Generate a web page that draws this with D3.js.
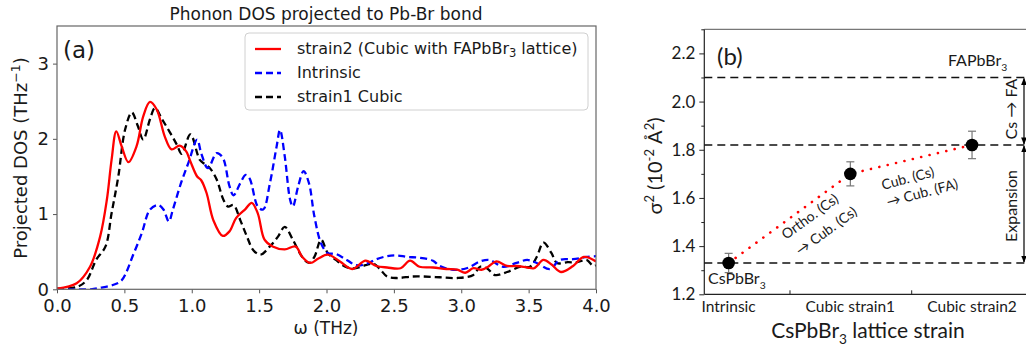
<!DOCTYPE html>
<html>
<head>
<meta charset="utf-8">
<script src="https://cdn.jsdelivr.net/npm/d3@7"></script>
<style>
  body { margin: 0; background: #fff; }
  svg { display: block; }
  .pa text { font-family: "DejaVu Sans", sans-serif; fill: #1a1a1a; }
  .pb text { font-family: Lato, "Open Sans", sans-serif; fill: #1a1a1a; }
</style>
</head>
<body>
<div id="chart"></div>
<script>
// ---- panel (a): phonon DOS, [omega THz, DOS] pairs
const strain2Dos = [[0,0.01],[0.146,0.08],[0.245,0.30],[0.32,0.70],[0.37,1.19],[0.405,1.72],[0.44,2.10],[0.48,1.90],[0.53,1.69],[0.59,1.90],[0.64,2.30],[0.69,2.49],[0.74,2.39],[0.80,2.03],[0.85,1.86],[0.91,1.91],[0.96,1.83],[0.99,1.70],[1.04,1.50],[1.07,1.45],[1.11,1.28],[1.16,0.92],[1.23,0.71],[1.28,0.77],[1.33,0.95],[1.40,1.07],[1.445,1.15],[1.49,1.01],[1.54,0.66],[1.60,0.57],[1.69,0.53],[1.77,0.57],[1.82,0.43],[1.88,0.35],[1.94,0.41],[2.01,0.46],[2.10,0.37],[2.19,0.27],[2.29,0.38],[2.37,0.31],[2.45,0.29],[2.55,0.28],[2.62,0.38],[2.69,0.30],[2.79,0.29],[2.89,0.27],[2.97,0.26],[3.03,0.22],[3.09,0.28],[3.15,0.26],[3.20,0.30],[3.26,0.37],[3.34,0.31],[3.41,0.31],[3.49,0.29],[3.54,0.28],[3.61,0.39],[3.67,0.33],[3.74,0.23],[3.83,0.31],[3.91,0.43],[4.0,0.37]];
const intrinsicDos = [[0,0],[0.1,0],[0.25,0],[0.32,0.02],[0.42,0.06],[0.48,0.12],[0.57,0.48],[0.63,0.75],[0.69,1.06],[0.75,1.12],[0.79,1.06],[0.83,0.90],[0.86,1.06],[0.92,1.41],[0.975,1.68],[1.04,1.99],[1.07,1.81],[1.12,1.61],[1.185,1.81],[1.23,1.75],[1.28,1.37],[1.31,1.25],[1.36,1.41],[1.40,1.52],[1.43,1.47],[1.49,1.10],[1.53,1.06],[1.58,1.41],[1.63,1.90],[1.655,2.12],[1.69,1.77],[1.73,1.19],[1.75,1.10],[1.79,1.37],[1.83,1.57],[1.87,1.41],[1.91,0.97],[1.96,0.61],[2.01,0.48],[2.07,0.47],[2.15,0.39],[2.22,0.32],[2.30,0.34],[2.37,0.40],[2.45,0.44],[2.52,0.45],[2.60,0.43],[2.69,0.42],[2.79,0.38],[2.84,0.31],[2.94,0.26],[3.04,0.28],[3.14,0.37],[3.21,0.39],[3.31,0.30],[3.41,0.35],[3.49,0.39],[3.56,0.35],[3.66,0.27],[3.73,0.39],[3.83,0.40],[3.93,0.43],[4.0,0.44]];
const strain1Dos = [[0,0.01],[0.146,0.03],[0.22,0.12],[0.29,0.39],[0.36,0.57],[0.405,1.01],[0.455,1.50],[0.505,2.12],[0.555,2.35],[0.60,2.17],[0.64,1.99],[0.69,2.26],[0.727,2.41],[0.78,2.26],[0.84,2.08],[0.89,1.92],[0.925,1.80],[0.99,2.06],[1.06,1.72],[1.10,1.66],[1.135,1.61],[1.185,1.46],[1.235,1.19],[1.27,1.10],[1.31,1.12],[1.36,0.92],[1.41,0.70],[1.457,0.52],[1.51,0.46],[1.58,0.57],[1.64,0.70],[1.69,0.83],[1.75,0.66],[1.82,0.43],[1.87,0.35],[1.91,0.43],[1.96,0.66],[2.01,0.48],[2.07,0.39],[2.14,0.30],[2.21,0.28],[2.29,0.32],[2.35,0.34],[2.40,0.26],[2.45,0.17],[2.52,0.15],[2.64,0.17],[2.72,0.17],[2.84,0.16],[2.97,0.15],[3.09,0.19],[3.14,0.30],[3.19,0.28],[3.25,0.19],[3.34,0.23],[3.44,0.30],[3.51,0.30],[3.56,0.43],[3.61,0.62],[3.67,0.48],[3.71,0.35],[3.79,0.36],[3.86,0.36],[3.93,0.39],[3.98,0.31],[4.0,0.32]];
const omegaTicks = [0, 0.5, 1, 1.5, 2, 2.5, 3, 3.5, 4];
const dosTicks = [0, 1, 2, 3];

// ---- panel (b): sigma^2 per lattice strain
const strainCats = ['Intrinsic', 'Cubic strain1', 'Cubic strain2'];
const sigma2 = [1.33, 1.70, 1.82];
const sigma2Err = [0.04, 0.05, 0.057];
const refLevels = [2.10, 1.82, 1.33];
const sigmaTicks = [1.2, 1.4, 1.6, 1.8, 2.0, 2.2];
const sigmaMinor = [1.3, 1.5, 1.7, 1.9, 2.1, 2.3];

const W = 1026, H = 347;
const svg = d3.select('#chart').append('svg').attr('width', W).attr('height', H);

// ================= panel (a) =================
const ga = svg.append('g').attr('class', 'pa');
const xa = d3.scaleLinear().domain([0, 4]).range([57, 596]);
const ya = d3.scaleLinear().domain([0, 3.5]).range([289.3, 26]);

ga.append('defs').append('clipPath').attr('id', 'clipA')
  .append('rect').attr('x', xa(0)).attr('y', ya(3.5))
  .attr('width', xa(4) - xa(0)).attr('height', ya(0) - ya(3.5));

const line = d3.line().x(d => xa(d[0])).y(d => ya(d[1])).curve(d3.curveCatmullRom.alpha(0.5));

const seriesA = [
  { name: 'strain1', data: strain1Dos, color: '#000', dash: '7,4' },
  { name: 'intrinsic', data: intrinsicDos, color: '#0000ff', dash: '7,4' },
  { name: 'strain2', data: strain2Dos, color: '#ff0000', dash: null }
];
const plotA = ga.append('g').attr('clip-path', 'url(#clipA)');
seriesA.forEach(s => {
  plotA.append('path').datum(s.data)
    .attr('d', line)
    .attr('fill', 'none')
    .attr('stroke', s.color)
    .attr('stroke-width', 2.3)
    .attr('stroke-dasharray', s.dash);
});

const axA = ga.append('g').attr('transform', `translate(0,${ya(0)})`)
  .call(d3.axisBottom(xa).tickValues(omegaTicks).tickFormat(d3.format('.1f')).tickSize(4).tickPadding(6));
const ayA = ga.append('g').attr('transform', `translate(${xa(0)},0)`)
  .call(d3.axisLeft(ya).tickValues(dosTicks).tickFormat(d3.format('d')).tickSize(4).tickPadding(4));
[axA, ayA].forEach(a => {
  a.select('.domain').remove();
  a.selectAll('line').attr('stroke', '#555');
  a.selectAll('text').style('font-size', '18px').attr('fill', '#1a1a1a');
});
ga.append('rect').attr('x', xa(0)).attr('y', ya(3.5))
  .attr('width', xa(4) - xa(0)).attr('height', ya(0) - ya(3.5))
  .attr('fill', 'none').attr('stroke', '#666').attr('stroke-width', 1.2);

ga.append('text').attr('x', 326).attr('y', 20).attr('text-anchor', 'middle')
  .style('font-size', '17px').text('Phonon DOS projected to Pb-Br bond');
ga.append('text').attr('x', 63).attr('y', 58).style('font-size', '23px').text('(a)');
ga.append('text').attr('x', 326).attr('y', 334).attr('text-anchor', 'middle')
  .style('font-size', '17px').text('ω (THz)');
const yl = ga.append('text').attr('transform', 'translate(27,158) rotate(-90)')
  .attr('text-anchor', 'middle').style('font-size', '18px');
yl.append('tspan').text('Projected DOS (THz');
yl.append('tspan').attr('dy', -7).style('font-size', '12.5px').text('−1');
yl.append('tspan').attr('dy', 7).text(')');

// legend
const lg = ga.append('g');
lg.append('rect').attr('x', 245).attr('y', 33).attr('width', 343).attr('height', 77).attr('rx', 4)
  .attr('fill', '#fff').attr('fill-opacity', 0.85).attr('stroke', '#d0d0d0');
const legendItems = [seriesA[2], seriesA[1], seriesA[0]];
const legendLabels = [null, 'Intrinsic', 'strain1 Cubic'];
legendItems.forEach((s, i) => {
  const y = 49 + i * 24;
  lg.append('line').attr('x1', 255).attr('x2', 281).attr('y1', y).attr('y2', y)
    .attr('stroke', s.color).attr('stroke-width', 2.3).attr('stroke-dasharray', s.dash);
  const t = lg.append('text').attr('x', 297).attr('y', y + 5).style('font-size', '16px');
  if (i === 0) {
    t.append('tspan').text('strain2 (Cubic with FAPbBr');
    t.append('tspan').attr('dy', 3).style('font-size', '11.5px').text('3');
    t.append('tspan').attr('dy', -3).text(' lattice)');
  } else {
    t.text(legendLabels[i]);
  }
});

// ================= panel (b) =================
const gb = svg.append('g').attr('class', 'pb');
const xb = d3.scaleLinear().domain([-0.2, 2.5]).range([704.3, 704.3 + 2.7 * 121.7]);
const yb = d3.scaleLinear().domain([1.2, 2.3]).range([294.3, 29.3]);

// frame
gb.append('line').attr('x1', xb(-0.2)).attr('x2', xb(-0.2)).attr('y1', yb(2.3)).attr('y2', yb(1.2))
  .attr('stroke', '#222').attr('stroke-width', 1.2);
gb.append('line').attr('x1', xb(-0.2)).attr('x2', W).attr('y1', yb(1.2)).attr('y2', yb(1.2))
  .attr('stroke', '#222').attr('stroke-width', 1.2);
gb.append('line').attr('x1', xb(-0.2)).attr('x2', W).attr('y1', yb(2.3)).attr('y2', yb(2.3))
  .attr('stroke', '#555').attr('stroke-width', 1);

const ayB = gb.append('g').attr('transform', `translate(${xb(-0.2)},0)`)
  .call(d3.axisLeft(yb).tickValues(sigmaTicks).tickFormat(d3.format('.1f')).tickSize(5).tickPadding(4));
ayB.select('.domain').remove();
ayB.selectAll('line').attr('stroke', '#222');
ayB.selectAll('text').style('font-size', '17px').attr('fill', '#1a1a1a');
const ayMinor = gb.append('g').attr('transform', `translate(${xb(-0.2)},0)`)
  .call(d3.axisLeft(yb).tickValues(sigmaMinor).tickFormat('').tickSize(3));
ayMinor.select('.domain').remove();
ayMinor.selectAll('line').attr('stroke', '#222');

const axB = gb.append('g').attr('transform', `translate(0,${yb(1.2)})`)
  .call(d3.axisBottom(xb).tickValues([0.5, 1.5]).tickFormat('').tickSize(-4));
axB.select('.domain').remove();
axB.selectAll('line').attr('stroke', '#222');

gb.selectAll('.cat').data(strainCats).enter().append('text')
  .attr('class', 'cat')
  .attr('x', (d, i) => xb(i)).attr('y', 312)
  .attr('text-anchor', 'middle').style('font-size', '15.5px').text(d => d);

// reference dashed levels
gb.selectAll('.ref').data(refLevels).enter().append('line')
  .attr('class', 'ref')
  .attr('x1', xb(-0.2)).attr('x2', W)
  .attr('y1', d => yb(d)).attr('y2', d => yb(d))
  .attr('stroke', '#111').attr('stroke-width', 1.4).attr('stroke-dasharray', '8,5');

// red dotted connector
const pts = sigma2.map((v, i) => [i, v]);
gb.append('path').datum(pts)
  .attr('d', d3.line().x(d => xb(d[0])).y(d => yb(d[1])))
  .attr('fill', 'none').attr('stroke', '#ff0000').attr('stroke-width', 2.6)
  .attr('stroke-linecap', 'round').attr('stroke-dasharray', '0.1,8.5');

// error bars
sigma2.forEach((v, i) => {
  const e = sigma2Err[i], cx = xb(i);
  const g = gb.append('g').attr('stroke', '#777').attr('stroke-width', 1.2);
  g.append('line').attr('x1', cx).attr('x2', cx).attr('y1', yb(v - e)).attr('y2', yb(v + e));
  g.append('line').attr('x1', cx - 4).attr('x2', cx + 4).attr('y1', yb(v - e)).attr('y2', yb(v - e));
  g.append('line').attr('x1', cx - 4).attr('x2', cx + 4).attr('y1', yb(v + e)).attr('y2', yb(v + e));
});
gb.selectAll('.pt').data(sigma2).enter().append('circle')
  .attr('class', 'pt')
  .attr('cx', (d, i) => xb(i)).attr('cy', d => yb(d)).attr('r', 6.3).attr('fill', '#000');

// labels
gb.append('text').attr('x', 717).attr('y', 65).style('font-size', '24px').text('(b)');
function subText(x, y, size, main, sub, after, anchor) {
  const t = gb.append('text').attr('x', x).attr('y', y).style('font-size', size + 'px')
    .attr('text-anchor', anchor || 'start');
  t.append('tspan').text(main);
  t.append('tspan').attr('dy', size * 0.3).style('font-size', (size * 0.65) + 'px').text(sub);
  if (after) t.append('tspan').attr('dy', -size * 0.3).text(after);
  return t;
}
subText(948, 66, 16, 'FAPbBr', '3');
subText(708, 284, 16, 'CsPbBr', '3');
subText(868, 338, 21, 'CsPbBr', '3', ' lattice strain', 'middle');

const ylb = gb.append('text').attr('transform', 'translate(662,166) rotate(-90)')
  .attr('text-anchor', 'middle').style('font-size', '20px');
ylb.append('tspan').text('σ');
ylb.append('tspan').attr('dy', -8).style('font-size', '13px').text('2');
ylb.append('tspan').attr('dy', 8).text(' (10');
ylb.append('tspan').attr('dy', -8).style('font-size', '13px').text('-2');
ylb.append('tspan').attr('dy', 8).text(' Å');
ylb.append('tspan').attr('dy', -8).style('font-size', '13px').text('2');
ylb.append('tspan').attr('dy', 8).text(')');

// annotations along the connector
function rotText(x, y, ang, size, txt) {
  gb.append('text').attr('transform', `translate(${x},${y}) rotate(${ang})`)
    .style('font-size', size + 'px').text(txt);
}
rotText(786, 240, -36, 14, 'Ortho. (Cs)');
rotText(800, 256, -36, 14, '→ Cub. (Cs)');
rotText(883, 190, -15, 14, 'Cub. (Cs)');
rotText(888, 207, -15, 14, '→ Cub. (FA)');

// vertical arrows on the right
const defs = svg.append('defs');
defs.append('marker').attr('id', 'ah').attr('viewBox', '0 0 10 10').attr('refX', 9).attr('refY', 5)
  .attr('markerWidth', 6).attr('markerHeight', 6).attr('orient', 'auto-start-reverse')
  .append('path').attr('d', 'M0,1 L10,5 L0,9 Z').attr('fill', '#000');
const ax = 1024;
[[refLevels[0], refLevels[1]], [refLevels[1], refLevels[2]]].forEach(([a, b]) => {
  gb.append('line').attr('x1', ax).attr('x2', ax).attr('y1', yb(a) + 1).attr('y2', yb(b) - 1)
    .attr('stroke', '#000').attr('stroke-width', 1.2)
    .attr('marker-start', 'url(#ah)').attr('marker-end', 'url(#ah)');
});
gb.append('text').attr('transform', 'translate(1017,109) rotate(-90)').attr('text-anchor', 'middle')
  .style('font-size', '16px').text('Cs → FA');
gb.append('text').attr('transform', 'translate(1017,206) rotate(-90)').attr('text-anchor', 'middle')
  .style('font-size', '16px').text('Expansion');
</script>
</body>
</html>
